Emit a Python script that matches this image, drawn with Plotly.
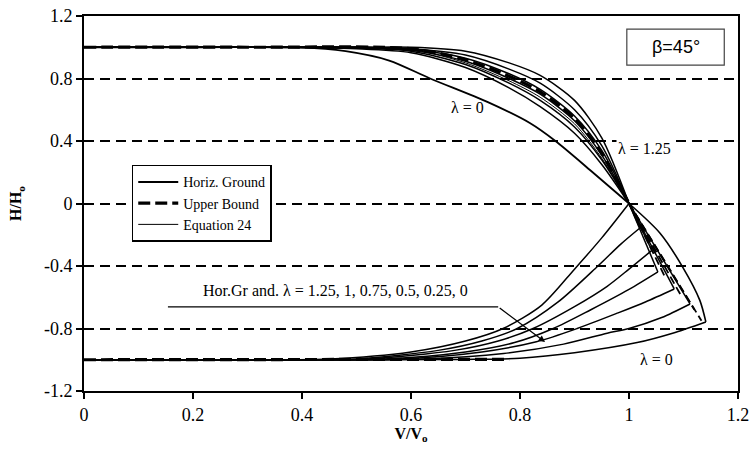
import plotly.graph_objects as go

# ---------------- data ----------------
x_ticks = [0, 0.2, 0.4, 0.6, 0.8, 1.0, 1.2]
x_ticktext = ["0", "0.2", "0.4", "0.6", "0.8", "1", "1.2"]
y_ticks = [1.2, 0.8, 0.4, 0, -0.4, -0.8, -1.2]
y_ticktext = ["1.2", "0.8", "0.4", "0", "-0.4", "-0.8", "-1.2"]

# upper branch (H > 0)
up_l0_x = [0, 0.2, 0.4, 0.48, 0.56, 0.635, 0.74, 0.818, 0.865, 0.93, 1.0]
up_l0_y = [1, 1, 1, 0.975, 0.915, 0.80, 0.65, 0.515, 0.40, 0.21, 0]

up_x = [0, 0.3, 0.5, 0.6, 0.7, 0.78, 0.837, 0.9, 0.95, 1.0]
up_l025_y = [1, 1, 0.99, 0.965, 0.87, 0.74, 0.62, 0.45, 0.25, 0]
up_l05_y = [1, 1, 0.995, 0.975, 0.89, 0.77, 0.66, 0.49, 0.28, 0]
up_l075_y = [1, 1, 1, 0.98, 0.91, 0.80, 0.70, 0.53, 0.31, 0]
up_l1_y = [1, 1, 1, 0.985, 0.93, 0.83, 0.73, 0.56, 0.34, 0]
up_hg_y = [1, 1, 1, 0.99, 0.95, 0.86, 0.77, 0.60, 0.37, 0]
up_l125_y = [1, 1, 1, 1, 0.975, 0.90, 0.82, 0.66, 0.42, 0]

up_ub_x = [0, 0.3, 0.6, 0.7, 0.78, 0.837, 0.9, 0.95, 1.0]
up_ub_y = [1, 1, 0.99, 0.92, 0.815, 0.715, 0.545, 0.32, 0]
up_eq_x = [0, 0.3, 0.6, 0.7, 0.78, 0.837, 0.9, 0.95, 1.0]
up_eq_y = [1, 1, 0.985, 0.9, 0.785, 0.68, 0.51, 0.29, 0]

# lower branch (H < 0): rising parts
lo_hg_x = [0, 0.3, 0.45, 0.6, 0.7, 0.769, 0.84, 0.9, 0.95, 1.0]
lo_hg_y = [-1, -1, -0.995, -0.95, -0.88, -0.80, -0.65, -0.42, -0.22, 0]
lo_l125_x = [0, 0.3, 0.5, 0.65, 0.73, 0.795, 0.87, 0.943, 0.985, 1.02]
lo_l125_y = [-1, -1, -0.995, -0.94, -0.88, -0.80, -0.63, -0.40, -0.26, -0.157]
lo_l1_x = [0, 0.3, 0.52, 0.68, 0.76, 0.824, 0.9, 0.96, 1.0, 1.042]
lo_l1_y = [-1, -1, -0.995, -0.94, -0.88, -0.80, -0.66, -0.53, -0.42, -0.30]
lo_l075_x = [0, 0.3, 0.55, 0.7, 0.79, 0.861, 0.93, 1.0, 1.053]
lo_l075_y = [-1, -1, -0.995, -0.95, -0.89, -0.80, -0.68, -0.55, -0.438]
lo_l05_x = [0, 0.3, 0.58, 0.73, 0.83, 0.905, 0.98, 1.03, 1.083]
lo_l05_y = [-1, -1, -0.995, -0.95, -0.885, -0.80, -0.70, -0.63, -0.547]
lo_l025_x = [0, 0.3, 0.62, 0.77, 0.88, 0.96, 1.0, 1.06, 1.112]
lo_l025_y = [-1, -1, -0.995, -0.96, -0.90, -0.83, -0.80, -0.73, -0.643]
lo_l0_x = [0, 0.3, 0.7, 0.8, 0.9, 1.015, 1.08, 1.141]
lo_l0_y = [-1, -1, -0.998, -0.99, -0.955, -0.89, -0.83, -0.758]

# lower branch: return lines from each tip to (1, 0)
ret_tip_x = [1.020, 1.042, 1.053, 1.083, 1.112]
ret_tip_y = [-0.157, -0.30, -0.438, -0.547, -0.643]
ret_l0_x = [1.141, 1.13, 1.099, 1.057, 1.0]
ret_l0_y = [-0.758, -0.62, -0.41, -0.19, 0]

# upper bound (dashed) on the lower branch
lo_ub_x = [0, 0.4, 0.7, 0.78]
lo_ub_y = [-1, -1, -1, -0.997]
ub_tip_x = [1.028, 1.05, 1.066, 1.094, 1.12, 1.133]
ub_tip_y = [-0.19, -0.33, -0.47, -0.58, -0.68, -0.75]

# ---------------- figure ----------------
fig = go.Figure()


def add(x, y, width=1.6, dash="solid", shape="spline", name=None, show=False, rank=None):
    fig.add_trace(go.Scatter(
        x=x, y=y, mode="lines",
        line=dict(color="black", width=width, dash=dash, shape=shape, smoothing=0.8),
        name=name, showlegend=show, legendrank=rank if rank else 1000,
        hoverinfo="skip"))


# upper bound dashed lines (drawn first, thick)
add(up_ub_x, up_ub_y, width=3.2, dash="12px,5px", name="Upper Bound", show=True, rank=2)
add(lo_ub_x, lo_ub_y, width=3.2, dash="12px,5px", shape="linear")
for tx, ty in zip(ub_tip_x, ub_tip_y):
    add([1.0, tx], [0, ty], width=1.8, dash="8px,4px", shape="linear")

# equation 24 thin line
add(up_eq_x, up_eq_y, width=1.0, name="Equation 24", show=True, rank=3)

# upper branch curves
add(up_l0_x, up_l0_y, width=1.8, name="Horiz. Ground", show=True, rank=1)
for ys in [up_l025_y, up_l05_y, up_l075_y, up_l1_y, up_hg_y, up_l125_y]:
    add(up_x, ys, width=1.5)

# lower branch curves
for xs, ys in [(lo_hg_x, lo_hg_y), (lo_l125_x, lo_l125_y), (lo_l1_x, lo_l1_y),
               (lo_l075_x, lo_l075_y), (lo_l05_x, lo_l05_y), (lo_l025_x, lo_l025_y),
               (lo_l0_x, lo_l0_y)]:
    add(xs, ys, width=1.5)
for tx, ty in zip(ret_tip_x, ret_tip_y):
    add([tx, 1.0], [ty, 0], width=1.5, shape="linear")
add(ret_l0_x, ret_l0_y, width=1.6)

serif = "Liberation Serif"

fig.update_layout(
    width=752, height=453,
    margin=dict(l=84, r=14, t=16, b=62, autoexpand=False),
    plot_bgcolor="white", paper_bgcolor="white",
    font=dict(family=serif, color="black"),
    legend=dict(x=0.073, y=0.603, xanchor="left", yanchor="top",
                bgcolor="white", bordercolor="black", borderwidth=1.5,
                font=dict(family=serif, size=14, color="black"),
                itemwidth=40, tracegroupgap=0, traceorder="normal"),
    xaxis=dict(range=[0, 1.2], tickvals=x_ticks, ticktext=x_ticktext, automargin=False,
               ticklabeloverflow="allow",
               showline=True, linecolor="black", linewidth=2, mirror=True,
               ticks="outside", ticklen=6, tickwidth=2, tickcolor="black",
               showgrid=False, zeroline=False,
               tickfont=dict(family=serif, size=18, color="black"),
               title=dict(text="<b>V/V<sub>o</sub></b>", standoff=0,
                          font=dict(family=serif, size=16, color="black"))),
    yaxis=dict(range=[-1.2, 1.2], tickvals=y_ticks, ticktext=y_ticktext, automargin=False,
               ticklabeloverflow="allow",
               showline=True, linecolor="black", linewidth=2, mirror=True,
               ticks="outside", ticklen=6, tickwidth=2, tickcolor="black",
               showgrid=True, gridcolor="black", gridwidth=2, griddash="10px,6px",
               zeroline=False,
               tickfont=dict(family=serif, size=18, color="black"),
               title=dict(text="<b>H/H<sub>o</sub></b>", standoff=18,
                          font=dict(family=serif, size=16, color="black"))),
)

# beta box
fig.add_shape(type="rect", xref="paper", yref="paper", x0=0.830, x1=0.979, y0=0.869, y1=0.965,
              line=dict(color="#444", width=1.2), fillcolor="white")
fig.add_annotation(xref="paper", yref="paper", x=0.905, y=0.917, text="β=45°", showarrow=False,
                   xanchor="center", yanchor="middle",
                   font=dict(family="Liberation Sans", size=18, color="black"))

# labels
fig.add_annotation(x=0.703, y=0.614, text="λ = 0", showarrow=False,
                   xanchor="center", yanchor="middle",
                   font=dict(family=serif, size=16, color="black"))
fig.add_annotation(x=1.028, y=0.352, text="λ = 1.25", showarrow=False, bgcolor="white",
                   xanchor="center", yanchor="middle",
                   font=dict(family=serif, size=16, color="black"))
fig.add_annotation(x=1.05, y=-0.998, text="λ = 0", showarrow=False,
                   xanchor="center", yanchor="middle",
                   font=dict(family=serif, size=16, color="black"))
fig.add_annotation(x=0.461, y=-0.554, text="Hor.Gr and. λ = 1.25, 1, 0.75, 0.5, 0.25, 0",
                   showarrow=False, xanchor="center", yanchor="middle",
                   font=dict(family=serif, size=16, color="black"))
fig.add_shape(type="line", x0=0.154, x1=0.760, y0=-0.662, y1=-0.662,
              line=dict(color="black", width=1.3))
fig.add_annotation(x=0.846, y=-0.886, ax=0.760, ay=-0.662, axref="x", ayref="y",
                   text="", showarrow=True, arrowhead=2, arrowsize=1, arrowwidth=1.3,
                   arrowcolor="black")

# remove the default 8px page margin so the 752x453 figure fills the window exactly
fig.write_html("out.html",
               config={"displayModeBar": False},
               post_script="document.body.style.margin='0px';document.body.style.overflow='hidden';")
